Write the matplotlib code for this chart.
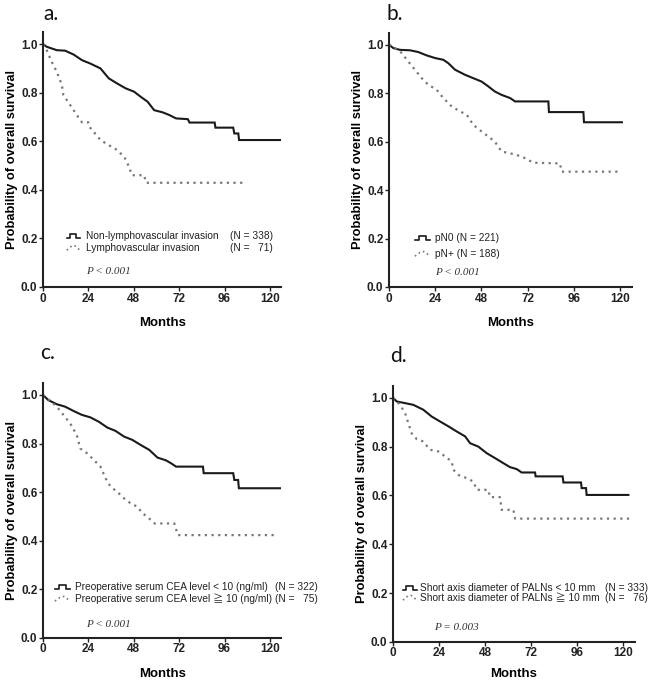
import numpy as np
import matplotlib.pyplot as plt

# ---- survival curves: vertices (months, probability) ----
a_solid_t = [0, 2, 7.3, 11.7, 16.2, 20.6, 25, 30.4, 34.8, 39.2, 43.7, 48.2, 51.7, 55.3, 58.8, 63.3, 66.8,
             70.4, 76.6, 77.5, 90.8, 91.2, 100.6, 101.2, 103.3, 103.7, 125.5]
a_solid_s = [1.0, 0.989, 0.975, 0.973, 0.957, 0.934, 0.92, 0.90, 0.859, 0.838, 0.818, 0.804, 0.783, 0.763, 0.728,
             0.719, 0.708, 0.694, 0.691, 0.677, 0.677, 0.656, 0.656, 0.632, 0.632, 0.605, 0.605]
a_dot_t = [0, 2, 4.6, 7.3, 10, 10.8, 14.4, 17.9, 20.6, 24, 24.5, 26.8, 30.4, 34.8, 39.2, 41, 43, 45.5, 47,
           53.5, 54.5, 107]
a_dot_s = [1.0, 0.975, 0.927, 0.886, 0.831, 0.79, 0.749, 0.708, 0.678, 0.678, 0.66, 0.639, 0.605, 0.584, 0.564,
           0.55, 0.536, 0.495, 0.46, 0.46, 0.429, 0.429]

b_solid_t = [0, 2.3, 5.7, 11, 15.2, 19.6, 24, 28.2, 30.8, 34.3, 39.5, 43.8, 48.1, 51.6, 55, 58.5, 62.9, 65.5,
             82.8, 83.1, 101, 101.3, 121]
b_solid_s = [1.0, 0.986, 0.979, 0.977, 0.97, 0.956, 0.945, 0.938, 0.924, 0.897, 0.876, 0.862, 0.848, 0.828,
             0.807, 0.793, 0.78, 0.766, 0.766, 0.722, 0.722, 0.68, 0.68]
b_dot_t = [0, 3.1, 6.6, 10, 13.5, 17, 20.4, 24.8, 28.2, 32.6, 36.9, 40.4, 43.8, 48.1, 51.6, 55, 58.5, 62.9,
           68.9, 75, 88.8, 89.7, 121]
b_dot_s = [1.0, 0.986, 0.966, 0.931, 0.897, 0.862, 0.835, 0.814, 0.78, 0.745, 0.725, 0.711, 0.669, 0.642,
           0.621, 0.60, 0.559, 0.552, 0.539, 0.513, 0.51, 0.476, 0.476]

c_solid_t = [0, 2.8, 7.3, 11.7, 16.2, 20.6, 25, 29.5, 34, 38.4, 42.8, 47.3, 51.7, 56.2, 60.6, 65, 67.7, 70.4,
             84.6, 85, 100.6, 101.2, 103.2, 103.6, 125.5]
c_solid_s = [1.0, 0.979, 0.962, 0.952, 0.934, 0.918, 0.908, 0.89, 0.866, 0.852, 0.829, 0.815, 0.794, 0.774,
             0.742, 0.731, 0.719, 0.705, 0.705, 0.678, 0.678, 0.65, 0.65, 0.616, 0.616]
c_dot_t = [0, 4, 7.3, 10.8, 14.4, 17.9, 19.7, 23.3, 26.8, 30.4, 33.1, 35.7, 39.2, 42.8, 46.3, 49.9, 52.6, 55,
           59, 69.5, 71.3, 123.6]
c_dot_s = [1.0, 0.975, 0.952, 0.918, 0.883, 0.835, 0.78, 0.76, 0.733, 0.705, 0.657, 0.623, 0.602, 0.575,
           0.554, 0.54, 0.513, 0.50, 0.471, 0.471, 0.423, 0.423]

d_solid_t = [0, 1.9, 6.3, 10.6, 15.8, 20.2, 24.5, 28.9, 33.2, 37.6, 40.2, 44.5, 48.9, 53.2, 57.6, 61, 64.5,
             67.1, 74.1, 74.4, 88.5, 88.9, 98.1, 98.4, 100.7, 101, 122.8]
d_solid_s = [1.0, 0.985, 0.978, 0.971, 0.951, 0.923, 0.903, 0.883, 0.862, 0.842, 0.814, 0.80, 0.773, 0.753,
             0.732, 0.716, 0.708, 0.694, 0.694, 0.678, 0.678, 0.653, 0.653, 0.63, 0.63, 0.602, 0.602]
d_dot_t = [0, 3.7, 6.3, 8, 9.7, 12.3, 15.8, 19.3, 23.7, 27.1, 30.6, 31.5, 34.1, 38.4, 41.9, 43.7, 49.7, 50.6,
           55.8, 56.7, 62.8, 63.7, 124]
d_dot_s = [1.0, 0.971, 0.937, 0.896, 0.855, 0.831, 0.821, 0.787, 0.78, 0.76, 0.739, 0.705, 0.684, 0.671,
           0.657, 0.623, 0.623, 0.593, 0.593, 0.541, 0.541, 0.505, 0.505]

panel_letters = ["a.", "b.", "c.", "d."]
legend_a = ["Non-lymphovascular invasion", "Lymphovascular invasion"]
n_a = ["(N = 338)", "(N =   71)"]
legend_b = ["pN0 (N = 221)", "pN+ (N = 188)"]
n_b = ["", ""]
legend_c = ["Preoperative serum CEA level < 10 (ng/ml)", "Preoperative serum CEA level \u2267 10 (ng/ml)"]
n_c = ["(N = 322)", "(N =   75)"]
legend_d = ["Short axis diameter of PALNs < 10 mm", "Short axis diameter of PALNs \u2267 10 mm"]
n_d = ["(N = 333)", "(N =   76)"]
p_texts = ["P < 0.001", "P < 0.001", "P < 0.001", "P = 0.003"]

x_ticks = [0, 24, 48, 72, 96, 120]
y_ticks = [0.0, 0.2, 0.4, 0.6, 0.8, 1.0]

SANS = ["Liberation Sans", "DejaVu Sans"]
SANS_CJK = ["Liberation Sans", "Noto Sans CJK JP", "DejaVu Sans"]

fig = plt.figure(figsize=(6.51, 6.8), dpi=100)

# axes rects [left, bottom, width, height]
rects = [
    [0.066, 0.578, 0.366, 0.375],
    [0.5975, 0.578, 0.3726, 0.374],
    [0.066, 0.062, 0.366, 0.375],
    [0.6037, 0.056, 0.371, 0.377],
]
letter_pos = [(0.066, 0.979), (0.594, 0.979), (0.061, 0.481), (0.599, 0.477)]
xlabel_pad = [9, 9, 9, 6]

# legend layout per panel: symbol x0/x1, text x, n right x, row ys, p (x, y)
leg_layout = [
    dict(sx=(0.10, 0.155), tx=0.18, nx=0.966, rows=(0.20, 0.153), p=(0.18, 0.059)),
    dict(sx=(0.107, 0.17), tx=0.19, nx=None, rows=(0.193, 0.13), p=(0.19, 0.055)),
    dict(sx=(0.05, 0.115), tx=0.134, nx=1.155, rows=(0.20, 0.153), p=(0.18, 0.051)),
    dict(sx=(0.041, 0.099), tx=0.112, nx=1.056, rows=(0.21, 0.172), p=(0.17, 0.055)),
]

curves = [
    (a_solid_t, a_solid_s, a_dot_t, a_dot_s, legend_a, n_a),
    (b_solid_t, b_solid_s, b_dot_t, b_dot_s, legend_b, n_b),
    (c_solid_t, c_solid_s, c_dot_t, c_dot_s, legend_c, n_c),
    (d_solid_t, d_solid_s, d_dot_t, d_dot_s, legend_d, n_d),
]

for i in range(4):
    st, ss, dt, ds, labels, ns = curves[i]
    ax = fig.add_axes(rects[i])
    ax.plot(st, ss, color="#1a1a1a", lw=1.5, solid_joinstyle="miter")
    ax.plot(dt, ds, color="#777777", lw=1.6, linestyle=(0, (1, 2.0)))
    ax.set_xlim(0, 126)
    ax.set_ylim(0, 1.05)
    ax.set_xticks(x_ticks)
    ax.set_yticks(y_ticks)
    ax.set_yticklabels([f"{v:.1f}" for v in y_ticks])
    for side in ["top", "right"]:
        ax.spines[side].set_visible(False)
    for side in ["left", "bottom"]:
        ax.spines[side].set_linewidth(1.5)
        ax.spines[side].set_color("#222222")
    ax.tick_params(direction="out", length=3, width=1, pad=1, colors="#222222")
    for lab in ax.get_xticklabels() + ax.get_yticklabels():
        lab.set_family(SANS)
        lab.set_fontweight("bold")
        lab.set_fontsize(8.5)
    ax.set_xlabel("Months", family=SANS, fontweight="bold", fontsize=9.5,
                  labelpad=xlabel_pad[i])
    ax.set_ylabel("Probability of overall survival", family=SANS,
                  fontweight="bold", fontsize=9.3, labelpad=2)

    lay = leg_layout[i]
    x0, x1 = lay["sx"]
    w = x1 - x0
    r1, r2 = lay["rows"]
    h = 0.018
    # solid step symbol
    ax.plot([x0, x0 + 0.25 * w, x0 + 0.25 * w, x0 + 0.7 * w, x0 + 0.7 * w, x1],
            [r1 - h / 2, r1 - h / 2, r1 + h / 2, r1 + h / 2, r1 - h / 2, r1 - h / 2],
            transform=ax.transAxes, color="#1a1a1a", lw=1.2, clip_on=False)
    # dotted symbol
    ax.plot([x0, x0 + 0.4 * w, x0 + 0.6 * w, x1],
            [r2 - h / 2, r2 + h / 2, r2 + h / 2, r2 - h / 2],
            transform=ax.transAxes, color="#777777", lw=1.2,
            linestyle=(0, (1, 1.8)), clip_on=False)
    for lbl, n, ry in zip(labels, ns, (r1, r2)):
        ax.text(lay["tx"], ry, lbl, transform=ax.transAxes, family=SANS_CJK,
                fontsize=7.3, va="center", ha="left", color="#222222")
        if n:
            ax.text(lay["nx"], ry, n, transform=ax.transAxes, family=SANS,
                    fontsize=7.3, va="center", ha="right", color="#222222")
    px, py = lay["p"]
    ax.text(px, py, p_texts[i], transform=ax.transAxes, family="Liberation Serif",
            style="italic", fontsize=8, va="center", ha="left", color="#333333")

    fig.text(letter_pos[i][0], letter_pos[i][1], panel_letters[i], family="Lato",
             fontsize=15, va="center", ha="left", color="#111111")

fig.savefig("out.png", dpi=100)
